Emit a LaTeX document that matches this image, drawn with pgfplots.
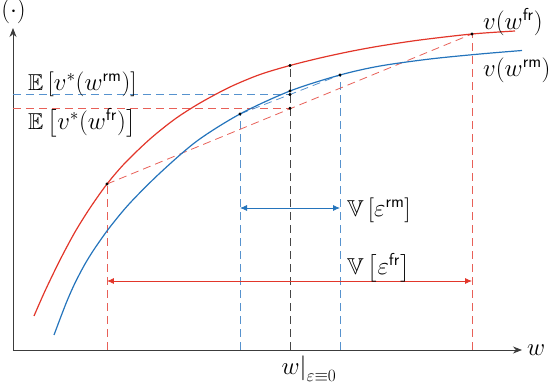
\documentclass[border=0pt]{standalone}
\usepackage{pgfplots}
\pgfplotsset{compat=1.18}
\usepackage{amssymb}
\usetikzlibrary{arrows.meta}
\definecolor{cred}{RGB}{226,54,42}
\definecolor{cblue}{RGB}{36,116,188}
\definecolor{dred}{RGB}{232,96,88}
\definecolor{dblue}{RGB}{86,146,206}
\definecolor{dgray}{RGB}{70,70,70}
\definecolor{axgray}{RGB}{60,60,60}
\begin{document}
\begin{tikzpicture}[font=\fontsize{23}{27}\selectfont]
\begin{axis}[
  x=1pt, y=1pt,
  xmin=13, xmax=522, ymin=36, ymax=358,
  axis lines=left,
  axis line style={draw=axgray, line width=0.8pt, -{Stealth[length=9pt,width=7pt]}},
  xtick=\empty, ytick=\empty,
  clip=false,
  every axis plot/.append style={line join=round},
]
% dashed guide lines
\addplot[dred, line width=0.8pt, dash pattern=on 8pt off 5pt] coordinates {(107,36) (107,202)};
\addplot[dred, line width=0.8pt, dash pattern=on 8pt off 5pt] coordinates {(472,36) (472,352)};
\addplot[dblue, line width=0.8pt, dash pattern=on 8pt off 5pt] coordinates {(240,36) (240,272)};
\addplot[dblue, line width=0.8pt, dash pattern=on 8pt off 5pt] coordinates {(340,36) (340,311)};
\addplot[dgray, line width=0.8pt, dash pattern=on 8pt off 5pt] coordinates {(290,36) (290,320.5)};
\addplot[dblue, line width=0.8pt, dash pattern=on 8pt off 5pt] coordinates {(13,291.5) (290,291.5)};
\addplot[dred, line width=0.8pt, dash pattern=on 8pt off 5pt] coordinates {(13,277.7) (290,277.7)};
\addplot[dred, line width=0.8pt, dash pattern=on 8pt off 5pt] coordinates {(107,202) (472,352)};
\addplot[dblue, line width=0.8pt, dash pattern=on 8pt off 5pt] coordinates {(240,272) (340,311)};
% curves
\addplot[cred, line width=1.2pt, smooth] coordinates {
 (34,70) (45,95) (60,126) (75,154) (90,178) (107,202)
 (125,223) (150,247) (175,267) (200,283) (230,299) (260,311.5) (290,320.5)
 (320,328) (350,334.5) (380,340) (420,346) (472,352) (515,355)};
\addplot[cblue, line width=1.2pt, smooth] coordinates {
 (54,51) (60,67) (67,85) (75,103) (85,122) (95,138) (110,159) (130,183)
 (160,213) (197,245) (240,272) (290,295) (340,311) (380,320) (430,327)
 (480,332) (522,335.5)};
% arrows
\addplot[cblue, line width=0.8pt, {Latex[length=7pt,width=6pt]}-{Latex[length=7pt,width=6pt]}] coordinates {(240,178) (340,178)};
\addplot[cred, line width=0.8pt, {Latex[length=7pt,width=6pt]}-{Latex[length=7pt,width=6pt]}] coordinates {(107,105) (472,105)};
% dots
\addplot[only marks, mark=*, mark size=1.3pt, black] coordinates {
 (107,202) (290,320.5) (472,352) (240,272) (290,295) (340,311) (290,291.5) (290,277.7)};
% labels
\node[inner sep=0pt, anchor=west] at (axis cs:28,302) {$\mathbb{E}\left[v^*(w^{\mathsf{rm}})\right]$};
\node[inner sep=0pt, anchor=west] at (axis cs:28,263) {$\mathbb{E}\left[v^*(w^{\mathsf{fr}})\right]$};
\node[inner sep=0pt, anchor=west] at (axis cs:483,364) {$v(w^{\mathsf{fr}})$};
\node[inner sep=0pt, anchor=west] at (axis cs:483,316) {$v(w^{\mathsf{rm}})$};
\node[inner sep=0pt, anchor=west] at (axis cs:347,176) {$\mathbb{V}\left[\varepsilon^{\mathsf{rm}}\right]$};
\node[inner sep=0pt, anchor=west] at (axis cs:347,118) {$\mathbb{V}\left[\varepsilon^{\mathsf{fr}}\right]$};
\node[inner sep=0pt] at (axis cs:309,17) {$w\big|_{\varepsilon\equiv 0}$};
\node[inner sep=0pt, anchor=west] at (axis cs:527,36) {$w$};
\node[inner sep=0pt, anchor=east] at (axis cs:26,375) {$v(\cdot)$};
\coordinate (bbl) at (axis cs:0,0);
\coordinate (btr) at (axis cs:550,386);
\end{axis}
\pgfresetboundingbox
\path[use as bounding box] (bbl) rectangle (btr);
\end{tikzpicture}
\end{document}
